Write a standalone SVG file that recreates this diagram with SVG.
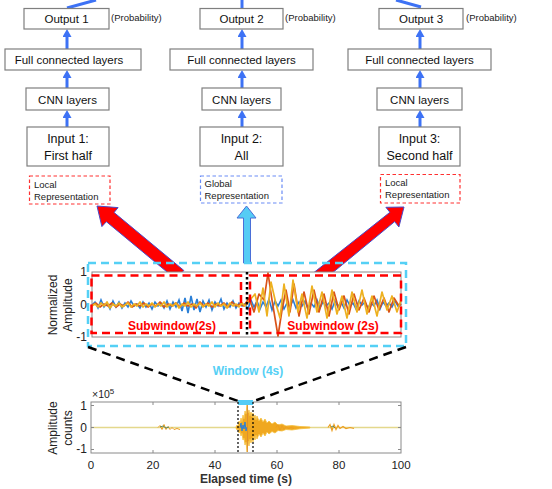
<svg xmlns="http://www.w3.org/2000/svg" width="552" height="489" viewBox="0 0 552 489">
<style>
.box{fill:#fff;stroke:#7f7f7f;stroke-width:1.2}
.lbl{font-family:"Liberation Sans",Arial,sans-serif;font-size:11.5px;fill:#111;text-anchor:middle}
.inp{font-family:"Liberation Sans",Arial,sans-serif;font-size:12.5px;fill:#111;text-anchor:middle}
.sm{font-family:"Liberation Sans",Arial,sans-serif;font-size:9.5px;fill:#222}
.conn{stroke:#3d72f5;stroke-width:3;fill:none}
.ax{font-family:"Liberation Sans",Arial,sans-serif;font-size:12px;fill:#222}
.tk{font-family:"Liberation Sans",Arial,sans-serif;font-size:11.5px;fill:#222;text-anchor:middle}
.axbox{fill:none;stroke:#8a8a8a;stroke-width:1}
.reddash{fill:none;stroke:#ff0000;stroke-width:2.5;stroke-dasharray:8,5}
.cyandash{fill:none;stroke:#55d0f5;stroke-width:2.5;stroke-dasharray:8,5}
.blkdash{stroke:#000;stroke-width:2.5;stroke-dasharray:9,6;fill:none}
</style>
<defs>
<marker id="ah" markerUnits="userSpaceOnUse" markerWidth="10" markerHeight="10" refX="4" refY="4.5" orient="auto">
<path d="M0,0 L8,4.5 L0,9 z" fill="#3d72f5"/>
</marker>
</defs>

<!-- connectors -->
<g id="connectors">
<line class="conn" x1="67" y1="8" x2="96" y2="0"/>
<line class="conn" x1="242" y1="8" x2="242" y2="0"/>
<line class="conn" x1="421" y1="7" x2="396" y2="0"/>
<line class="conn" x1="67" y1="127" x2="67" y2="114" marker-end="url(#ah)"/>
<line class="conn" x1="67" y1="88" x2="67" y2="74" marker-end="url(#ah)"/>
<line class="conn" x1="67" y1="49" x2="67" y2="33" marker-end="url(#ah)"/>
<line class="conn" x1="242" y1="127" x2="242" y2="114" marker-end="url(#ah)"/>
<line class="conn" x1="242" y1="88" x2="242" y2="74" marker-end="url(#ah)"/>
<line class="conn" x1="242" y1="49" x2="242" y2="33" marker-end="url(#ah)"/>
<line class="conn" x1="420" y1="127" x2="420" y2="114" marker-end="url(#ah)"/>
<line class="conn" x1="420" y1="88" x2="420" y2="74" marker-end="url(#ah)"/>
<line class="conn" x1="420" y1="49" x2="420" y2="33" marker-end="url(#ah)"/>
<!-- big arrows -->
<polygon points="183.8,270.4 114.1,212.5 118.1,207.6 97,206 101.9,226.6 106.4,221.7 176.2,279.6" fill="#ff0000" stroke="#4a4ac8" stroke-width="1"/>
<polygon points="314.2,272.3 389.9,212.3 385.9,207.3 404,207 398.9,227 394.7,221.6 321.8,281.6" fill="#ff0000" stroke="#4a4ac8" stroke-width="1"/>
<polygon points="243.5,263 243.5,218 237,218 246.5,206 256,218 250.5,218 250.5,263" fill="#55ccf5" stroke="#4a6fd8" stroke-width="1"/>
</g>

<!-- column 1 -->
<g id="output1"><rect class="box" x="24" y="8.5" width="85" height="20.5"/><text class="lbl" x="66.5" y="23">Output 1</text><text class="sm" x="111" y="21">(Probability)</text></g>
<g id="fcl1"><rect class="box" x="5" y="49" width="136" height="21"/><text class="lbl" x="69" y="64">Full connected layers</text></g>
<g id="cnn1"><rect class="box" x="26" y="88" width="83" height="22"/><text class="lbl" x="67.5" y="103.5">CNN layers</text></g>
<g id="input1"><rect class="box" x="27" y="127" width="82" height="39"/><text class="inp" x="68" y="143">Input 1:</text><text class="inp" x="68" y="160">First half</text></g>
<g id="rep1"><rect x="29.5" y="176" width="80.5" height="28" fill="#fff" stroke="#ff3030" stroke-width="1.2" stroke-dasharray="3.5,2.5"/><text class="sm" x="34" y="187.5">Local</text><text class="sm" x="34" y="199.5">Representation</text></g>

<!-- column 2 -->
<g id="output2"><rect class="box" x="200" y="8.5" width="83" height="20.5"/><text class="lbl" x="241.5" y="23">Output 2</text><text class="sm" x="285" y="21">(Probability)</text></g>
<g id="fcl2"><rect class="box" x="170" y="49" width="143" height="21"/><text class="lbl" x="241.5" y="64">Full connected layers</text></g>
<g id="cnn2"><rect class="box" x="202" y="88" width="79" height="22"/><text class="lbl" x="241.5" y="103.5">CNN layers</text></g>
<g id="input2"><rect class="box" x="200" y="127" width="83" height="39"/><text class="inp" x="241.5" y="143">Input 2:</text><text class="inp" x="241.5" y="160">All</text></g>
<g id="rep2"><rect x="200.5" y="176" width="81.5" height="27" fill="#fff" stroke="#6a8cf5" stroke-width="1.2" stroke-dasharray="3.5,2.5"/><text class="sm" x="204.5" y="187">Global</text><text class="sm" x="204.5" y="199">Representation</text></g>

<!-- column 3 -->
<g id="output3"><rect class="box" x="379" y="8.5" width="84" height="20.5"/><text class="lbl" x="421" y="23">Output 3</text><text class="sm" x="466" y="21">(Probability)</text></g>
<g id="fcl3"><rect class="box" x="348" y="49" width="143" height="21"/><text class="lbl" x="419.5" y="64">Full connected layers</text></g>
<g id="cnn3"><rect class="box" x="377" y="88" width="85" height="22"/><text class="lbl" x="419.5" y="103.5">CNN layers</text></g>
<g id="input3"><rect class="box" x="379" y="127" width="81" height="39"/><text class="inp" x="419.5" y="143">Input 3:</text><text class="inp" x="419.5" y="160">Second half</text></g>
<g id="rep3"><rect x="380.5" y="174.5" width="79.5" height="28.5" fill="#fff" stroke="#ff3030" stroke-width="1.2" stroke-dasharray="3.5,2.5"/><text class="sm" x="385" y="186">Local</text><text class="sm" x="385" y="198">Representation</text></g>

<!-- middle plot -->
<g id="window-plot">
<rect x="92" y="272" width="309" height="65" fill="#fff" stroke="#8a8a8a" stroke-width="1"/>
<polyline fill="none" stroke="#2a7fd6" stroke-width="1.6" points="92,305 95,302 98,308 101,300 104,307 107,303 110,309 113,301 116,307 119,302 122,308 125,303 128,307 131,301 134,306 137,304 140,308 143,302 146,307 149,303 152,309 155,302 158,306 161,303 164,308 167,301 170,309 173,302 176,307 179,300 182,311 185,298 188,313 191,296 194,310 197,299 200,312 203,301 206,307 209,300 212,310 215,302 218,306 221,299 224,309 227,303 230,307 233,301 236,308 239,303 242,306 245,304 248,309 251,300 254,307 257,301 260,309 263,302 266,307 269,299 272,310 275,301 278,306 281,300 284,309 287,303 290,307 293,300 296,308 299,302 302,306 305,301 308,309 311,303 314,307 317,300 320,308 323,302 326,306 329,303 332,309 335,301 338,307 341,302 344,308 347,300 350,306 353,303 356,309 359,301 362,305 365,302 368,308 371,303 374,306 377,300 380,309 383,302 386,306 389,303 392,307 395,301 398,306 401,304"/>
<polyline fill="none" stroke="#d95319" stroke-width="1.7" stroke-linejoin="round" points="92,305 96,303 100,307 104,304 108,306 112,303 116,307 120,304 124,306 128,302 132,307 136,304 140,306 144,303 148,307 152,304 156,306 160,302 164,307 168,304 172,306 176,303 180,307 184,303 188,306 192,304 196,308 200,302 204,306 208,303 212,307 216,304 220,306 224,303 228,307 232,302 236,306 240,304 244,306 249,298 254,312 259,294 264,300 268,273 272,300 275,318 278,336 282,310 286,290 290,312 294,284 299,316 304,292 309,314 314,290 319,312 324,294 329,316 334,292 339,310 344,296 349,314 354,294 359,310 364,298 369,312 374,296 379,310 384,298 389,312 394,298 399,306 401,304"/>
<polyline fill="none" stroke="#edb120" stroke-width="1.7" stroke-linejoin="round" points="92,306 95,304 98,307 101,303 104,306 107,302 110,308 113,304 116,306 119,303 122,307 125,305 128,303 131,307 134,304 137,306 140,302 143,307 146,304 149,306 152,303 155,307 158,304 161,306 164,302 167,307 170,304 173,306 176,303 179,308 182,304 185,306 188,302 191,307 194,304 197,306 200,303 203,307 206,304 209,306 212,302 215,307 218,303 221,306 224,304 227,308 230,303 233,306 236,304 239,307 242,303 245,306 250,300 255,294 259,312 263,288 267,316 271,282 276,304 280,318 284,284 289,316 293,280 298,312 302,294 307,318 312,286 317,312 322,292 327,318 332,290 337,314 342,296 347,318 352,292 357,312 362,290 367,314 372,296 377,316 382,292 387,310 392,296 397,312 401,300"/>
<rect class="reddash" x="91.5" y="275.5" width="149.5" height="57.5"/>
<rect class="reddash" x="250" y="275.5" width="151" height="57.5"/>
<line x1="247" y1="272" x2="247" y2="337" stroke="#000" stroke-width="2.5" stroke-dasharray="2.5,2.5"/>
<rect class="cyandash" x="88" y="263" width="318" height="83"/>
<text class="ax" x="87" y="276" text-anchor="end">1</text>
<text class="ax" x="87" y="309" text-anchor="end">0</text>
<text class="ax" x="87" y="341" text-anchor="end">-1</text>
<text class="ax" transform="translate(57,305) rotate(-90)" text-anchor="middle">Normalized</text>
<text class="ax" transform="translate(72,305) rotate(-90)" text-anchor="middle">Amplitude</text>
<text x="128" y="330" font-family="Liberation Sans,Arial,sans-serif" font-size="12" font-weight="bold" fill="#ff0000">Subwindow(2s)</text>
<text x="333" y="330" font-family="Liberation Sans,Arial,sans-serif" font-size="12" font-weight="bold" fill="#ff0000" text-anchor="middle">Subwindow (2s)</text>
</g>

<!-- zoom lines -->
<g id="zoom-lines">
<line class="blkdash" x1="88" y1="347" x2="238" y2="401"/>
<line class="blkdash" x1="406" y1="347" x2="254" y2="401"/>
<text x="248" y="375" font-family="Liberation Sans,Arial,sans-serif" font-size="12" font-weight="bold" fill="#55d0f5" text-anchor="middle">Window (4s)</text>
</g>

<!-- bottom plot -->
<g id="trace-plot">
<rect x="91" y="402" width="310" height="51" fill="#fff"/>
<line x1="91" y1="427.5" x2="401" y2="427.5" stroke="#e4d88c" stroke-width="1.6"/>
<path d="M158,427.5 l2,-2 l2,4 l2,-5 l2,5 l2,-3 l2,3 l2,-2 l2,2 l3,-1 l3,1" fill="none" stroke="#ec9e20" stroke-width="1"/>
<path d="M160,427 l3,-1 l3,2 l3,-1" fill="none" stroke="#5a8a6a" stroke-width="1"/>
<polygon points="236,427 237,425 238,426 239,421 240,424 241,418 242,422 243,415 244,419 245,411 246,414 247,404 248,413 249,410 250,416 251,412 252,417 253,413 254,419 255,415 256,420 257,416 259,421 261,418 263,422 265,419 267,423 269,421 272,424 275,422 278,425 282,424 286,426 292,425.5 300,426.5 310,427 310,428 300,428.8 292,430 286,429.5 282,431 278,430.5 275,433 272,431.5 269,434 267,432 265,436 263,433 261,437 259,434 257,439 256,435 255,440 254,436 253,442 252,438 251,443 250,439 249,446 248,441 247,452 246,442 245,445 244,438 243,440 242,433 241,436 240,431 239,433 238,429 237,430 236,428" fill="#f0a820" stroke="#f5c040" stroke-width="0.8"/>
<path d="M240,428 l1,-5 l1,8 l1,-6 l1,4 l1,-7 l1,9 l1,-4" fill="none" stroke="#2a7fd6" stroke-width="1"/>
<line x1="247.5" y1="403" x2="247.5" y2="452" stroke="#d98a30" stroke-width="0.8"/>
<path d="M276,427.5 l2,-3 l2,6 l2,-5 l2,4 l2,-3 l2,2 l3,-1 l3,1" fill="none" stroke="#ec9e20" stroke-width="1"/>
<path d="M328,427.5 l2,-3 l2,6 l2,-6 l2,5 l2,-4 l2,3 l3,-2 l3,2 l4,-1 l4,1" fill="none" stroke="#ec9e20" stroke-width="1.2"/>
<path d="M331,427 l2,-1 l2,2" fill="none" stroke="#5a8a6a" stroke-width="1"/>
<rect class="axbox" x="91" y="402" width="310" height="51"/>
<path d="M153,402v3M215,402v3M277,402v3M339,402v3M153,453v-3M215,453v-3M277,453v-3M339,453v-3M91,405.5h3M91,427.5h3M91,449.5h3M401,405.5h-3M401,427.5h-3M401,449.5h-3" stroke="#8a8a8a" stroke-width="1"/>
<rect x="238" y="400" width="15" height="5" fill="#55ccf5"/>
<line x1="238" y1="402" x2="238" y2="453" stroke="#000" stroke-width="1.2" stroke-dasharray="2,2"/>
<line x1="253" y1="402" x2="253" y2="453" stroke="#000" stroke-width="1.2" stroke-dasharray="2,2"/>
<text class="ax" x="87" y="409.5" text-anchor="end">1</text>
<text class="ax" x="87" y="431.5" text-anchor="end">0</text>
<text class="ax" x="87" y="452.5" text-anchor="end">-1</text>
<text x="92" y="398" font-family="Liberation Sans,Arial,sans-serif" font-size="10.5" fill="#222">×10<tspan font-size="8" dy="-4">5</tspan></text>
<text class="ax" transform="translate(57,428) rotate(-90)" text-anchor="middle">Amplitude</text>
<text class="ax" transform="translate(72,428) rotate(-90)" text-anchor="middle">counts</text>
<text class="tk" x="91" y="469">0</text>
<text class="tk" x="153" y="469">20</text>
<text class="tk" x="215" y="469">40</text>
<text class="tk" x="277" y="469">60</text>
<text class="tk" x="339" y="469">80</text>
<text class="tk" x="401" y="469">100</text>
<text x="246" y="483" font-family="Liberation Sans,Arial,sans-serif" font-size="12" font-weight="bold" fill="#333" text-anchor="middle">Elapsed time (s)</text>
</g>
</svg>
